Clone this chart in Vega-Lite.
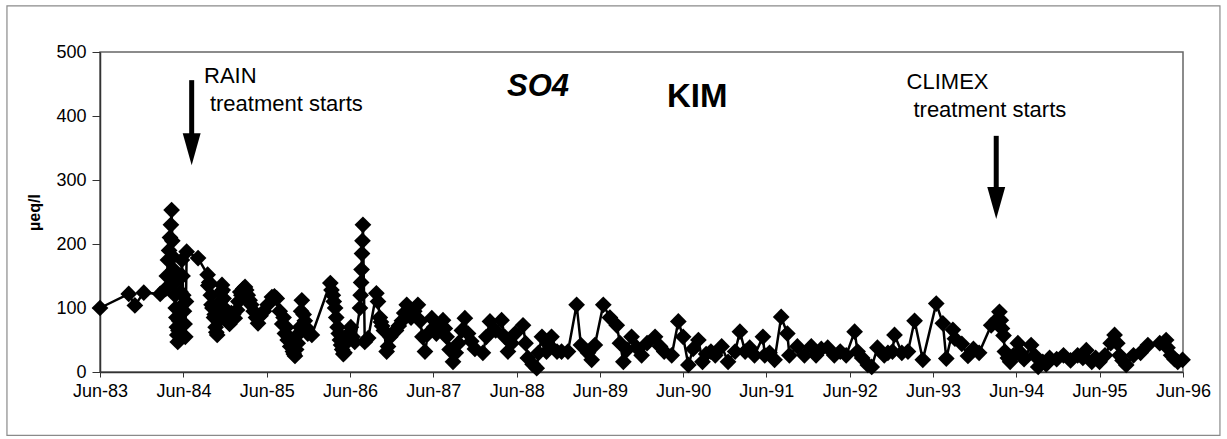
{
  "$schema": "https://vega.github.io/schema/vega-lite/v6.json",
  "width": 1083,
  "height": 320,
  "autosize": "none",
  "padding": {"left": 100, "top": 52, "right": 44, "bottom": 67},
  "background": "white",
  "config": {
    "font": "Liberation Sans",
    "view": {"stroke": "#666", "strokeWidth": 1.5}
  },
  "datasets": {
    "so4": [
      {"date": "1983-06-01", "v": 100}, {"date": "1983-10-05", "v": 122}, {"date": "1983-11-01", "v": 104}, {"date": "1983-12-10", "v": 124},
      {"date": "1984-02-20", "v": 122}, {"date": "1984-03-15", "v": 130}, {"date": "1984-03-20", "v": 150}, {"date": "1984-03-25", "v": 175},
      {"date": "1984-03-30", "v": 190}, {"date": "1984-04-03", "v": 210}, {"date": "1984-04-07", "v": 230}, {"date": "1984-04-10", "v": 253},
      {"date": "1984-04-13", "v": 205}, {"date": "1984-04-16", "v": 180}, {"date": "1984-04-19", "v": 160}, {"date": "1984-04-22", "v": 140},
      {"date": "1984-04-25", "v": 120}, {"date": "1984-04-28", "v": 100}, {"date": "1984-05-01", "v": 85}, {"date": "1984-05-03", "v": 70},
      {"date": "1984-05-05", "v": 58}, {"date": "1984-05-07", "v": 47}, {"date": "1984-05-10", "v": 65}, {"date": "1984-05-13", "v": 80},
      {"date": "1984-05-16", "v": 100}, {"date": "1984-05-19", "v": 125}, {"date": "1984-05-22", "v": 150}, {"date": "1984-05-25", "v": 175},
      {"date": "1984-05-28", "v": 150}, {"date": "1984-05-31", "v": 120}, {"date": "1984-06-03", "v": 95}, {"date": "1984-06-06", "v": 75},
      {"date": "1984-06-09", "v": 55}, {"date": "1984-06-12", "v": 110}, {"date": "1984-06-15", "v": 188}, {"date": "1984-08-04", "v": 178},
      {"date": "1984-09-15", "v": 152}, {"date": "1984-09-18", "v": 135}, {"date": "1984-09-22", "v": 140}, {"date": "1984-09-29", "v": 120},
      {"date": "1984-10-02", "v": 105}, {"date": "1984-10-06", "v": 100}, {"date": "1984-10-13", "v": 85}, {"date": "1984-10-16", "v": 90},
      {"date": "1984-10-20", "v": 70}, {"date": "1984-10-23", "v": 62}, {"date": "1984-10-27", "v": 58}, {"date": "1984-11-03", "v": 80},
      {"date": "1984-11-06", "v": 95}, {"date": "1984-11-10", "v": 110}, {"date": "1984-11-13", "v": 125}, {"date": "1984-11-17", "v": 136},
      {"date": "1984-11-20", "v": 128}, {"date": "1984-11-24", "v": 115}, {"date": "1984-11-27", "v": 100}, {"date": "1984-12-01", "v": 95},
      {"date": "1984-12-04", "v": 88}, {"date": "1984-12-08", "v": 85}, {"date": "1984-12-12", "v": 80}, {"date": "1984-12-20", "v": 75},
      {"date": "1984-12-28", "v": 92}, {"date": "1985-01-05", "v": 90}, {"date": "1985-01-12", "v": 84}, {"date": "1985-01-22", "v": 97},
      {"date": "1985-01-28", "v": 110}, {"date": "1985-02-05", "v": 125}, {"date": "1985-02-10", "v": 120}, {"date": "1985-02-18", "v": 130},
      {"date": "1985-02-26", "v": 133}, {"date": "1985-03-03", "v": 128}, {"date": "1985-03-10", "v": 120}, {"date": "1985-03-18", "v": 112},
      {"date": "1985-03-25", "v": 105}, {"date": "1985-04-05", "v": 95}, {"date": "1985-04-15", "v": 85}, {"date": "1985-04-24", "v": 76},
      {"date": "1985-05-05", "v": 88}, {"date": "1985-05-20", "v": 95}, {"date": "1985-06-05", "v": 105}, {"date": "1985-06-24", "v": 117},
      {"date": "1985-07-05", "v": 118}, {"date": "1985-07-15", "v": 115}, {"date": "1985-07-28", "v": 95}, {"date": "1985-08-08", "v": 75},
      {"date": "1985-08-14", "v": 85}, {"date": "1985-08-20", "v": 60}, {"date": "1985-08-26", "v": 70}, {"date": "1985-09-01", "v": 50},
      {"date": "1985-09-06", "v": 55}, {"date": "1985-09-12", "v": 40}, {"date": "1985-09-18", "v": 45}, {"date": "1985-09-24", "v": 32},
      {"date": "1985-09-28", "v": 28}, {"date": "1985-10-03", "v": 25}, {"date": "1985-10-08", "v": 35}, {"date": "1985-10-15", "v": 45},
      {"date": "1985-10-20", "v": 60}, {"date": "1985-10-25", "v": 70}, {"date": "1985-10-30", "v": 95}, {"date": "1985-11-02", "v": 112},
      {"date": "1985-11-10", "v": 90}, {"date": "1985-11-15", "v": 80}, {"date": "1985-11-20", "v": 70}, {"date": "1985-11-28", "v": 60},
      {"date": "1985-12-16", "v": 58}, {"date": "1986-03-07", "v": 139}, {"date": "1986-03-12", "v": 128}, {"date": "1986-03-18", "v": 120},
      {"date": "1986-03-22", "v": 110}, {"date": "1986-03-28", "v": 100}, {"date": "1986-04-02", "v": 85}, {"date": "1986-04-08", "v": 70},
      {"date": "1986-04-13", "v": 60}, {"date": "1986-04-18", "v": 50}, {"date": "1986-04-23", "v": 42}, {"date": "1986-04-28", "v": 35},
      {"date": "1986-05-03", "v": 28}, {"date": "1986-05-08", "v": 30}, {"date": "1986-05-14", "v": 45}, {"date": "1986-05-20", "v": 55},
      {"date": "1986-05-28", "v": 60}, {"date": "1986-06-05", "v": 70}, {"date": "1986-06-12", "v": 55}, {"date": "1986-06-22", "v": 47},
      {"date": "1986-07-15", "v": 100}, {"date": "1986-07-18", "v": 120}, {"date": "1986-07-20", "v": 140}, {"date": "1986-07-22", "v": 160},
      {"date": "1986-07-24", "v": 185}, {"date": "1986-07-26", "v": 205}, {"date": "1986-07-28", "v": 230}, {"date": "1986-08-05", "v": 47},
      {"date": "1986-08-20", "v": 53}, {"date": "1986-09-25", "v": 123}, {"date": "1986-10-02", "v": 110}, {"date": "1986-10-10", "v": 85},
      {"date": "1986-10-15", "v": 78}, {"date": "1986-10-20", "v": 72}, {"date": "1986-10-28", "v": 65}, {"date": "1986-11-09", "v": 32},
      {"date": "1986-11-15", "v": 40}, {"date": "1986-11-25", "v": 55}, {"date": "1986-12-05", "v": 60}, {"date": "1986-12-20", "v": 65},
      {"date": "1987-01-01", "v": 72}, {"date": "1987-01-15", "v": 80}, {"date": "1987-01-25", "v": 92}, {"date": "1987-02-05", "v": 105},
      {"date": "1987-02-14", "v": 95}, {"date": "1987-02-24", "v": 85}, {"date": "1987-03-10", "v": 95}, {"date": "1987-03-26", "v": 105},
      {"date": "1987-04-05", "v": 80}, {"date": "1987-04-15", "v": 55}, {"date": "1987-04-26", "v": 32}, {"date": "1987-05-10", "v": 60},
      {"date": "1987-05-26", "v": 84}, {"date": "1987-06-05", "v": 70}, {"date": "1987-06-15", "v": 60}, {"date": "1987-06-28", "v": 72},
      {"date": "1987-07-14", "v": 81}, {"date": "1987-07-22", "v": 68}, {"date": "1987-07-30", "v": 55}, {"date": "1987-08-12", "v": 35},
      {"date": "1987-08-27", "v": 16}, {"date": "1987-09-08", "v": 30}, {"date": "1987-09-20", "v": 45}, {"date": "1987-10-05", "v": 65},
      {"date": "1987-10-18", "v": 84}, {"date": "1987-11-01", "v": 60}, {"date": "1987-11-15", "v": 48}, {"date": "1987-12-01", "v": 36},
      {"date": "1988-01-05", "v": 30}, {"date": "1988-01-20", "v": 55}, {"date": "1988-02-05", "v": 79}, {"date": "1988-03-01", "v": 65},
      {"date": "1988-03-27", "v": 81}, {"date": "1988-04-10", "v": 55}, {"date": "1988-04-24", "v": 32}, {"date": "1988-05-10", "v": 45},
      {"date": "1988-05-25", "v": 60}, {"date": "1988-06-29", "v": 73}, {"date": "1988-07-10", "v": 45}, {"date": "1988-07-20", "v": 22},
      {"date": "1988-08-10", "v": 12}, {"date": "1988-08-28", "v": 6}, {"date": "1988-09-05", "v": 30}, {"date": "1988-09-20", "v": 55},
      {"date": "1988-10-10", "v": 32}, {"date": "1988-10-20", "v": 42}, {"date": "1988-11-01", "v": 55}, {"date": "1988-11-25", "v": 32},
      {"date": "1988-12-15", "v": 32}, {"date": "1989-01-12", "v": 32}, {"date": "1989-02-19", "v": 105}, {"date": "1989-03-10", "v": 42},
      {"date": "1989-04-10", "v": 30}, {"date": "1989-04-26", "v": 19}, {"date": "1989-05-10", "v": 42}, {"date": "1989-06-16", "v": 105},
      {"date": "1989-07-15", "v": 85}, {"date": "1989-08-14", "v": 73}, {"date": "1989-08-28", "v": 45}, {"date": "1989-09-12", "v": 16},
      {"date": "1989-09-28", "v": 35}, {"date": "1989-10-18", "v": 55}, {"date": "1989-11-10", "v": 38}, {"date": "1989-12-01", "v": 26},
      {"date": "1989-12-25", "v": 45}, {"date": "1990-01-29", "v": 55}, {"date": "1990-02-20", "v": 40}, {"date": "1990-03-10", "v": 32},
      {"date": "1990-04-12", "v": 26}, {"date": "1990-05-11", "v": 79}, {"date": "1990-06-01", "v": 55}, {"date": "1990-06-24", "v": 11},
      {"date": "1990-07-15", "v": 36}, {"date": "1990-08-07", "v": 50}, {"date": "1990-08-25", "v": 16}, {"date": "1990-09-10", "v": 28},
      {"date": "1990-10-01", "v": 32}, {"date": "1990-10-20", "v": 26}, {"date": "1990-11-17", "v": 40}, {"date": "1990-12-15", "v": 16},
      {"date": "1991-01-15", "v": 32}, {"date": "1991-02-05", "v": 63}, {"date": "1991-02-28", "v": 32}, {"date": "1991-03-20", "v": 38},
      {"date": "1991-04-10", "v": 26}, {"date": "1991-05-17", "v": 55}, {"date": "1991-05-25", "v": 26}, {"date": "1991-06-15", "v": 30},
      {"date": "1991-07-07", "v": 19}, {"date": "1991-08-05", "v": 86}, {"date": "1991-09-01", "v": 60}, {"date": "1991-09-10", "v": 26},
      {"date": "1991-10-15", "v": 40}, {"date": "1991-11-15", "v": 26}, {"date": "1991-12-15", "v": 40}, {"date": "1992-01-05", "v": 26},
      {"date": "1992-01-28", "v": 36}, {"date": "1992-02-25", "v": 38}, {"date": "1992-03-25", "v": 26}, {"date": "1992-04-20", "v": 32},
      {"date": "1992-05-16", "v": 26}, {"date": "1992-06-22", "v": 63}, {"date": "1992-07-05", "v": 32}, {"date": "1992-07-25", "v": 22},
      {"date": "1992-08-19", "v": 11}, {"date": "1992-09-05", "v": 8}, {"date": "1992-09-30", "v": 38}, {"date": "1992-10-30", "v": 26},
      {"date": "1992-11-15", "v": 30}, {"date": "1992-12-05", "v": 32}, {"date": "1992-12-14", "v": 58}, {"date": "1993-01-15", "v": 30},
      {"date": "1993-02-11", "v": 32}, {"date": "1993-03-12", "v": 80}, {"date": "1993-04-17", "v": 19}, {"date": "1993-06-15", "v": 107},
      {"date": "1993-07-14", "v": 76}, {"date": "1993-07-29", "v": 21}, {"date": "1993-08-27", "v": 66}, {"date": "1993-09-05", "v": 52},
      {"date": "1993-10-05", "v": 44}, {"date": "1993-11-01", "v": 25}, {"date": "1993-11-25", "v": 36}, {"date": "1993-12-20", "v": 30},
      {"date": "1994-02-11", "v": 73}, {"date": "1994-03-05", "v": 81}, {"date": "1994-03-19", "v": 94}, {"date": "1994-03-25", "v": 81},
      {"date": "1994-03-30", "v": 68}, {"date": "1994-04-06", "v": 57}, {"date": "1994-04-12", "v": 32}, {"date": "1994-04-25", "v": 22},
      {"date": "1994-05-05", "v": 16}, {"date": "1994-05-20", "v": 26}, {"date": "1994-06-08", "v": 45}, {"date": "1994-06-20", "v": 30},
      {"date": "1994-07-05", "v": 20}, {"date": "1994-08-05", "v": 42}, {"date": "1994-08-20", "v": 26}, {"date": "1994-09-05", "v": 8},
      {"date": "1994-09-25", "v": 16}, {"date": "1994-10-10", "v": 12}, {"date": "1994-10-25", "v": 22}, {"date": "1994-11-25", "v": 20},
      {"date": "1994-12-25", "v": 26}, {"date": "1995-01-25", "v": 18}, {"date": "1995-02-25", "v": 26}, {"date": "1995-03-20", "v": 22},
      {"date": "1995-04-04", "v": 34}, {"date": "1995-04-28", "v": 16}, {"date": "1995-05-15", "v": 22}, {"date": "1995-06-01", "v": 16},
      {"date": "1995-06-25", "v": 26}, {"date": "1995-07-20", "v": 45}, {"date": "1995-08-06", "v": 58}, {"date": "1995-08-18", "v": 45},
      {"date": "1995-08-28", "v": 26}, {"date": "1995-09-10", "v": 18}, {"date": "1995-09-26", "v": 11}, {"date": "1995-10-28", "v": 26},
      {"date": "1995-11-28", "v": 30}, {"date": "1995-12-30", "v": 42}, {"date": "1996-02-20", "v": 45}, {"date": "1996-03-19", "v": 50},
      {"date": "1996-03-25", "v": 38}, {"date": "1996-04-10", "v": 26}, {"date": "1996-04-25", "v": 20}, {"date": "1996-05-09", "v": 16},
      {"date": "1996-05-30", "v": 19}
    ],
    "arrows": [
      {"date": "1984-07-07", "top": 456, "bottom": 350, "head": 348},
      {"date": "1994-03-05", "top": 369, "bottom": 268, "head": 264}
    ],
    "notes": [
      {"date": "1984-08-30", "v": 462, "label": "RAIN"},
      {"date": "1984-09-25", "v": 419, "label": "treatment starts"},
      {"date": "1993-02-05", "v": 453, "label": "CLIMEX"},
      {"date": "1993-03-07", "v": 409, "label": "treatment starts"}
    ],
    "so4label": [{"date": "1988-04-20", "v": 445, "label": "SO4"}],
    "kimlabel": [{"date": "1990-03-22", "v": 430, "label": "KIM"}],
    "frame": [{"start": "1982-04-19", "end": "1996-11-10", "low": -99, "high": 572}]
  },
  "layer": [
    {
      "data": {"name": "frame"},
      "mark": {"type": "rect", "filled": false, "stroke": "#8a8a8a", "strokeWidth": 1.2},
      "encoding": {
        "x": {"field": "start", "type": "temporal"},
        "x2": {"field": "end"},
        "y": {"field": "low", "type": "quantitative"},
        "y2": {"field": "high"}
      }
    },
    {
      "data": {"name": "so4"},
      "mark": {
        "type": "line",
        "color": "black",
        "strokeWidth": 2.5,
        "point": {"shape": "diamond", "size": 280, "filled": true, "color": "black", "opacity": 1}
      },
      "encoding": {
        "x": {
          "field": "date",
          "type": "temporal",
          "scale": {
            "type": "utc",
            "domain": [
              {"year": 1983, "month": 6, "date": 1, "utc": true},
              {"year": 1996, "month": 6, "date": 1, "utc": true}
            ]
          },
          "axis": {
            "title": null,
            "grid": false,
            "format": "%b-%y",
            "values": [
              {"year": 1983, "month": 6, "date": 1, "utc": true},
              {"year": 1984, "month": 6, "date": 1, "utc": true},
              {"year": 1985, "month": 6, "date": 1, "utc": true},
              {"year": 1986, "month": 6, "date": 1, "utc": true},
              {"year": 1987, "month": 6, "date": 1, "utc": true},
              {"year": 1988, "month": 6, "date": 1, "utc": true},
              {"year": 1989, "month": 6, "date": 1, "utc": true},
              {"year": 1990, "month": 6, "date": 1, "utc": true},
              {"year": 1991, "month": 6, "date": 1, "utc": true},
              {"year": 1992, "month": 6, "date": 1, "utc": true},
              {"year": 1993, "month": 6, "date": 1, "utc": true},
              {"year": 1994, "month": 6, "date": 1, "utc": true},
              {"year": 1995, "month": 6, "date": 1, "utc": true},
              {"year": 1996, "month": 6, "date": 1, "utc": true}
            ],
            "labelFontSize": 18,
            "labelColor": "black",
            "labelPadding": 5,
            "labelFlush": false,
            "labelOverlap": false,
            "tickSize": 5,
            "tickColor": "#333",
            "domainColor": "#333",
            "domainWidth": 1.5
          }
        },
        "y": {
          "field": "v",
          "type": "quantitative",
          "scale": {"domain": [0, 500], "nice": false},
          "axis": {
            "title": "µeq/l",
            "titleFontSize": 16,
            "titleFontWeight": "bold",
            "titleColor": "black",
            "titleAngle": 270,
            "titleX": -66,
            "titleY": 160,
            "titleAlign": "center",
            "titleBaseline": "middle",
            "grid": false,
            "values": [0, 50, 100, 150, 200, 250, 300, 350, 400, 450, 500],
            "labelExpr": "datum.value % 100 === 0 ? datum.label : ''",
            "labelFontSize": 18,
            "labelColor": "black",
            "labelPadding": 6,
            "tickSize": {"condition": {"test": "datum.value % 100 !== 0", "value": 4}, "value": 8},
            "tickColor": "#333",
            "domainColor": "#333",
            "domainWidth": 1.5
          }
        }
      }
    },
    {
      "data": {"name": "arrows"},
      "mark": {"type": "rule", "color": "black", "strokeWidth": 5},
      "encoding": {
        "x": {"field": "date", "type": "temporal"},
        "y": {"field": "top", "type": "quantitative"},
        "y2": {"field": "bottom"}
      }
    },
    {
      "data": {"name": "arrows"},
      "mark": {"type": "point", "shape": "M -0.56 -1 L 0.56 -1 L 0 1 Z", "size": 1024, "filled": true, "color": "black", "opacity": 1},
      "encoding": {
        "x": {"field": "date", "type": "temporal"},
        "y": {"field": "head", "type": "quantitative"}
      }
    },
    {
      "data": {"name": "notes"},
      "mark": {"type": "text", "align": "left", "baseline": "middle", "fontSize": 22, "color": "black"},
      "encoding": {
        "x": {"field": "date", "type": "temporal"},
        "y": {"field": "v", "type": "quantitative"},
        "text": {"field": "label"}
      }
    },
    {
      "data": {"name": "so4label"},
      "mark": {"type": "text", "align": "left", "baseline": "middle", "fontSize": 31, "fontWeight": "bold", "fontStyle": "italic", "color": "black"},
      "encoding": {
        "x": {"field": "date", "type": "temporal"},
        "y": {"field": "v", "type": "quantitative"},
        "text": {"field": "label"}
      }
    },
    {
      "data": {"name": "kimlabel"},
      "mark": {"type": "text", "align": "left", "baseline": "middle", "fontSize": 33, "fontWeight": "bold", "color": "black"},
      "encoding": {
        "x": {"field": "date", "type": "temporal"},
        "y": {"field": "v", "type": "quantitative"},
        "text": {"field": "label"}
      }
    }
  ]
}
